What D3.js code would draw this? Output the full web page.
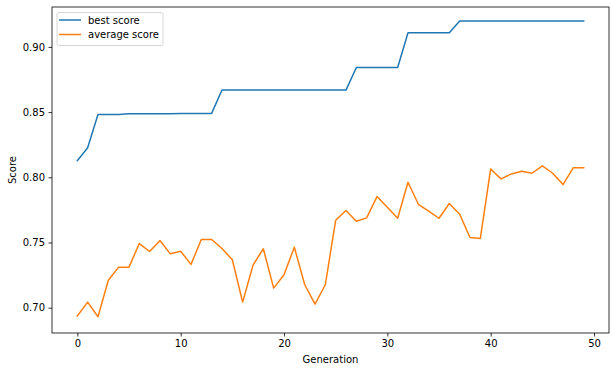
<!DOCTYPE html>
<html lang="en">
    <head>
        <meta charset="utf-8" />
        <title></title>
        <script src="https://cdn.jsdelivr.net/npm/d3@7"></script>
        <style type="text/css">
            body { margin: 0; background: #fff; }
            svg { display: block; font-family: "DejaVu Sans", sans-serif; }
        </style>
    </head>
    <body>
        <script type="text/javascript">
            // generations 0..49
            var generations = d3.range(0, 50);

            var bestScore = [
                0.8128, 0.8227, 0.8482, 0.8482, 0.8482, 0.8488, 0.8488, 0.8488, 0.8488, 0.8488,
                0.8490, 0.8490, 0.8490, 0.8490, 0.8669, 0.8669, 0.8669, 0.8669, 0.8669, 0.8669,
                0.8669, 0.8669, 0.8669, 0.8669, 0.8669, 0.8669, 0.8669, 0.8842, 0.8842, 0.8842,
                0.8842, 0.8842, 0.9108, 0.9108, 0.9108, 0.9108, 0.9108, 0.9198, 0.9198, 0.9198,
                0.9198, 0.9198, 0.9198, 0.9198, 0.9198, 0.9198, 0.9198, 0.9198, 0.9198, 0.9198
            ];

            var averageScore = [
                0.6936, 0.7043, 0.6931, 0.7211, 0.7311, 0.7311, 0.7492, 0.7431, 0.7515, 0.7413,
                0.7433, 0.7332, 0.7523, 0.7523, 0.7454, 0.7368, 0.7043, 0.7326, 0.7452, 0.7150,
                0.7253, 0.7464, 0.7178, 0.7028, 0.7176, 0.7671, 0.7745, 0.7663, 0.7689, 0.7852,
                0.7770, 0.7686, 0.7962, 0.7793, 0.7740, 0.7686, 0.7799, 0.7717, 0.7538, 0.7531,
                0.8064, 0.7988, 0.8026, 0.8046, 0.8031, 0.8087, 0.8031, 0.7944, 0.8074, 0.8074
            ];

            var xTicks = [0, 10, 20, 30, 40, 50];
            var yTicks = [0.70, 0.75, 0.80, 0.85, 0.90];

            var series = [
                { "name": "best score", "color": "#1f77b4", "values": bestScore },
                { "name": "average score", "color": "#ff7f0e", "values": averageScore }
            ];

            var W = 615, H = 371;
            var m = { top: 7, right: 6, bottom: 38, left: 52 };

            var svg = d3.select("body").append("svg")
                .attr("width", W)
                .attr("height", H);

            var x = d3.scaleLinear().domain([-2.45, 51.45]).range([m.left, W - m.right]);
            var y = d3.scaleLinear().domain([0.6806, 0.9306]).range([H - m.bottom, m.top]);

            // lines
            var line = d3.line()
                .x(function (d, i) { return x(generations[i]); })
                .y(function (d) { return y(d); });

            svg.selectAll("path.series")
                .data(series)
                .enter()
                .append("path")
                .attr("class", "series")
                .attr("d", function (d) { return line(d.values); })
                .attr("fill", "none")
                .attr("stroke", function (d) { return d.color; })
                .attr("stroke-width", 1.5)
                .attr("stroke-linejoin", "round")
                .attr("stroke-linecap", "square");

            // axes
            var xAxis = svg.append("g")
                .attr("transform", "translate(0," + (H - m.bottom) + ")")
                .call(d3.axisBottom(x).tickValues(xTicks).tickSize(3.5).tickPadding(3.5).tickFormat(d3.format("d")));
            var yAxis = svg.append("g")
                .attr("transform", "translate(" + m.left + ",0)")
                .call(d3.axisLeft(y).tickValues(yTicks).tickSize(3.5).tickPadding(3.5).tickFormat(d3.format(".2f")));

            [xAxis, yAxis].forEach(function (g) {
                g.select(".domain").remove();
                g.selectAll("line").attr("stroke", "#000").attr("stroke-width", 0.8);
                g.selectAll("text").attr("fill", "#000").style("font-size", "10px").style("font-family", "DejaVu Sans");
            });

            // frame
            svg.append("rect")
                .attr("x", m.left)
                .attr("y", m.top)
                .attr("width", W - m.left - m.right)
                .attr("height", H - m.top - m.bottom)
                .attr("fill", "none")
                .attr("stroke", "#000")
                .attr("stroke-width", 0.8);

            // axis labels
            svg.append("text")
                .attr("x", (m.left + W - m.right) / 2)
                .attr("y", H - 8)
                .attr("text-anchor", "middle")
                .style("font-size", "10px")
                .text("Generation");

            svg.append("text")
                .attr("transform", "translate(16," + ((m.top + H - m.bottom) / 2) + ") rotate(-90)")
                .attr("text-anchor", "middle")
                .style("font-size", "10px")
                .text("Score");

            // legend
            var legend = svg.append("g").attr("transform", "translate(57,12.5)");
            legend.append("rect")
                .attr("width", 106)
                .attr("height", 33)
                .attr("rx", 2)
                .attr("fill", "#fff")
                .attr("fill-opacity", 0.8)
                .attr("stroke", "#ccc")
                .attr("stroke-width", 0.8);

            var item = legend.selectAll("g.item")
                .data(series)
                .enter()
                .append("g")
                .attr("class", "item")
                .attr("transform", function (d, i) { return "translate(0," + (7.5 + i * 14.5) + ")"; });
            item.append("line")
                .attr("x1", 2).attr("x2", 24)
                .attr("stroke", function (d) { return d.color; })
                .attr("stroke-width", 1.5);
            item.append("text")
                .attr("x", 31)
                .attr("dy", "0.35em")
                .style("font-size", "10px")
                .text(function (d) { return d.name; });
        </script>
    </body>
</html>
